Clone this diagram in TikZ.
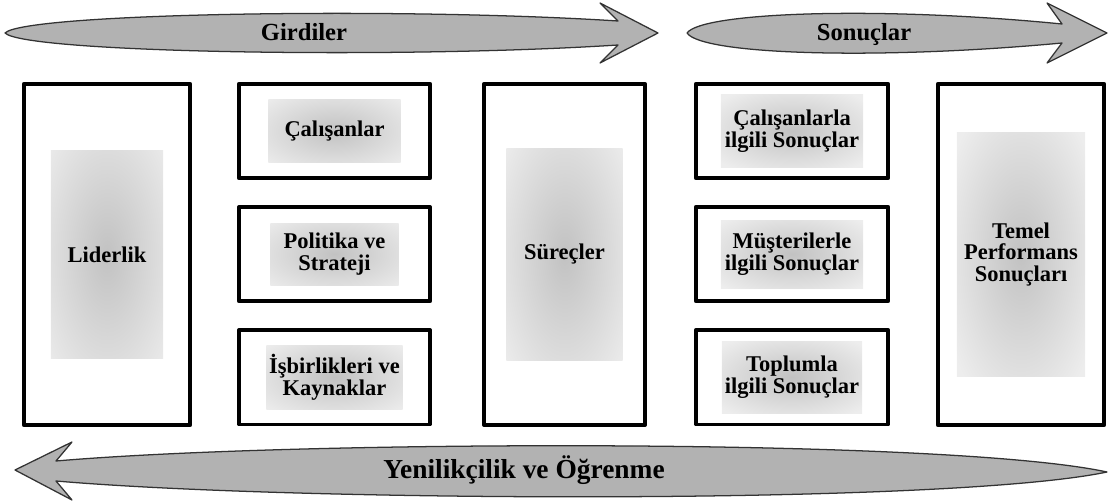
\documentclass[tikz,border=0pt]{standalone}
\usepackage{fontspec}
\setmainfont{Liberation Serif}
\usetikzlibrary{positioning}

\begin{document}
\begin{tikzpicture}[x=0.025cm, y=-0.025cm, line join=round,
		kutu/.style={draw, line width=2.6pt, inner sep=0pt, align=center,
			font=\bfseries\fontsize{16}{15.5}\selectfont},
		leke/.style 2 args={path picture={
				\shade[inner color=gray!48, outer color=gray!14]
				(path picture bounding box.center) ++(-#1/2,-#2/2) rectangle ++(#1,#2);}},
		ok/.style={draw=black!80, line width=0.9pt, top color=gray!60, middle color=gray!22, bottom color=gray!60},
		okyazi/.style={anchor=base, font=\bfseries\fontsize{17.5}{17.5}\selectfont}]
	\useasboundingbox (0,0) rectangle (1109,504);
	
	% 1. Üst oklar (Girdiler / Sonuçlar)
	\draw[ok] (5,33) .. controls (25,13) and (400,7) .. (618,21) -- (600,3) -- (658,33) -- (600,63) -- (618,45)
		.. controls (400,59) and (25,53) .. (5,33) -- cycle;
	\draw[ok] (687,33) .. controls (702,12) and (880,6) .. (1062,24) -- (1047,3) -- (1107,33) -- (1047,63) -- (1062,43)
		.. controls (880,60) and (702,55) .. (687,33) -- cycle;
	\node[okyazi] (girdiler) at (304,41) {Girdiler};
	\node[okyazi] (sonuclar) at (864,41) {Sonuçlar};
	
	% 2. Sol sütunlar
	\node[kutu, leke={2.8cm}{5.2cm}, minimum width=4.16cm, minimum height=8.53cm] (liderlik) at (107,254.5) {Liderlik};
	\node[kutu, leke={3.3cm}{1.55cm}, minimum width=4.78cm, minimum height=2.36cm] (calisanlar) at (334.5,131) {Çalışanlar};
	\node[kutu, leke={3.2cm}{1.55cm}, minimum width=4.78cm, minimum height=2.36cm, below=0.625cm of calisanlar] (politika) {Politika ve\\Strateji};
	\node[kutu, leke={3.4cm}{1.6cm}, minimum width=4.78cm, minimum height=2.36cm, below=0.625cm of politika] (isbirlikleri) {İşbirlikleri ve\\Kaynaklar};
	\node[kutu, leke={2.9cm}{5.3cm}, minimum width=4.03cm, minimum height=8.53cm] (surecler) at (564.5,254.5) {Süreçler};
	
	% 3. Sonuç sütunları
	\node[kutu, leke={3.55cm}{1.8cm}, minimum width=4.81cm, minimum height=2.36cm] (calisanSonuc) at (792,131) {Çalışanlarla\\ilgili Sonuçlar};
	\node[kutu, leke={3.55cm}{1.7cm}, minimum width=4.81cm, minimum height=2.36cm, below=0.625cm of calisanSonuc] (musteriSonuc) {Müşterilerle\\ilgili Sonuçlar};
	\node[kutu, leke={3.5cm}{1.8cm}, minimum width=4.81cm, minimum height=2.36cm, below=0.625cm of musteriSonuc] (toplumSonuc) {Toplumla\\ilgili Sonuçlar};
	\node[kutu, leke={3.2cm}{6.1cm}, minimum width=4.16cm, minimum height=8.53cm] (temel) at (1021,254.5) {Temel\\Performans\\Sonuçları};
	
	% 4. Alt ok
	\draw[ok] (15,470) -- (72,442) -- (56,461) .. controls (300,440) and (950,438) .. (1107,472)
		.. controls (950,505) and (300,502) .. (56,481) -- (72,500) -- cycle;
	\node[okyazi, font=\bfseries\fontsize{19.5}{19.5}\selectfont] (yenilik) at (524,478) {Yenilikçilik ve Öğrenme};
\end{tikzpicture}
\end{document}
